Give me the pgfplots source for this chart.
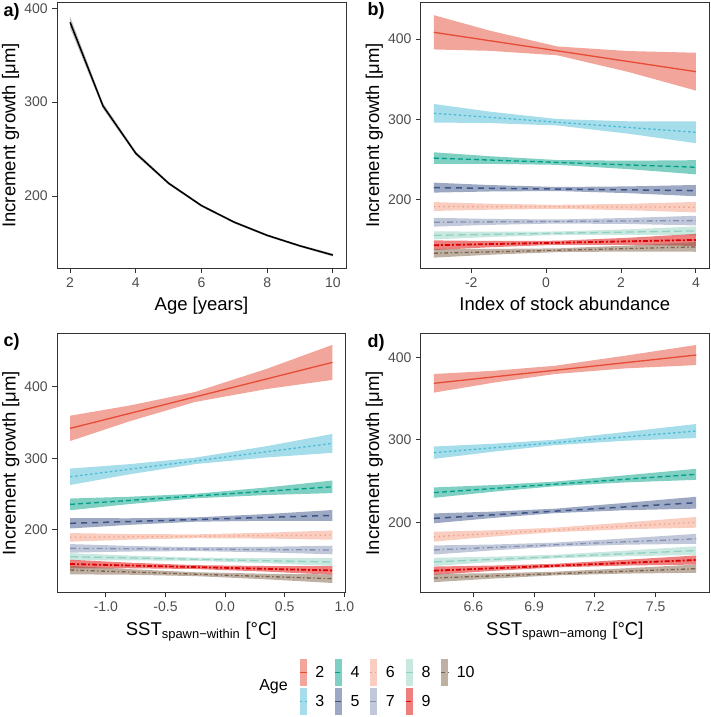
\documentclass[border=0pt]{standalone}
\usepackage{fontspec}
\setmainfont{Liberation Sans}
\usepackage{pgfplots}
\pgfplotsset{compat=1.18}

\definecolor{c2}{HTML}{E64B35}
\definecolor{c3}{HTML}{4DBBD5}
\definecolor{c4}{HTML}{00A087}
\definecolor{c5}{HTML}{3C5488}
\definecolor{c6}{HTML}{F39B7F}
\definecolor{c7}{HTML}{8491B4}
\definecolor{c8}{HTML}{91D1C2}
\definecolor{c9}{HTML}{DC0000}
\definecolor{c10}{HTML}{7E6148}
\definecolor{gray20}{HTML}{333333}
\definecolor{gray30}{HTML}{4D4D4D}

\newcommand\ticksize{\fontsize{14}{15}\selectfont}
\newcommand\titlesize{\fontsize{18.5}{20}\selectfont}

% ribbon: polygon of upper bound (left to right) and lower bound (right to left)
\newcommand\rib[2]{\addplot[draw=none, fill=#1, fill opacity=0.5, forget plot] coordinates {#2};}

\pgfplotsset{
  panel/.style={
    scale only axis, anchor=south west, axis on top,
    axis line style={draw=gray20, line width=0.9pt},
    tick align=outside, tick pos=left,
    major tick length=4.6pt,
    every tick/.style={draw=gray20, line width=0.9pt},
    minor tick num=0,
    tick label style={font=\ticksize, text=gray30},
    xticklabel style={anchor=north, inner sep=0pt, yshift=-4.5pt},
    yticklabel style={anchor=east, inner sep=0pt, xshift=-4.5pt},
    every axis x label/.style={at={(axis description cs:0.5,0)}, anchor=base, yshift=-42.5pt, font=\titlesize},
    every axis y label/.style={at={(axis description cs:-0.1438,0.5)}, rotate=90, anchor=base, font=\titlesize},
    ylabel={Increment growth [μm]},
    ytick={200,300,400}, yticklabels={200,300,400},
  },
  l2/.style={c2, line width=1.3pt},
  l3/.style={c3, line width=1.3pt, dash pattern=on 2.5pt off 2.5pt},
  l4/.style={c4, line width=1.3pt, dash pattern=on 5pt off 3pt},
  l5/.style={c5, line width=1.5pt, dash pattern=on 6pt off 5pt},
  l6/.style={c6, line width=1.3pt, dash pattern=on 1.3pt off 3.5pt},
  l7/.style={c7, line width=1.3pt, dash pattern=on 6pt off 3pt on 1.3pt off 3pt},
  l8/.style={c8, line width=1.3pt, dash pattern=on 8pt off 4pt},
  l9/.style={c9, line width=1.8pt, dash pattern=on 5pt off 2pt on 2pt off 2pt},
  l10/.style={c10, line width=1.3pt, dash pattern=on 4pt off 2.5pt on 1.3pt off 2.5pt},
  agekey/.style={legend image code/.code={
      \fill[draw=none, fill=#1, fill opacity=0.5] (0pt,-13.5pt) rectangle (7pt,13.5pt);
      \draw[##1] (0pt,0pt) -- (7pt,0pt);}},
}

\begin{document}
\begin{tikzpicture}
\useasboundingbox (0pt,0pt) rectangle (711pt,717pt);

% a) age effect
\begin{axis}[panel, at={(57pt,448.5pt)}, width=289pt, height=265.8pt,
  xmin=1.6, xmax=10.4, ymin=122.7, ymax=406,
  xtick={2,4,6,8,10}, xticklabels={2,4,6,8,10},
  xlabel={Age [years]}]
\addplot[draw=none, fill=black!25, forget plot] coordinates {
  (2,391) (3,299) (4,247.5) (5,215) (6,191) (7,173.2) (8,159.2) (9,148) (10,138.5)
  (10,135.5) (9,145.6) (8,156.8) (7,170.8) (6,188.4) (5,212) (4,243.3) (3,293) (2,379)};
\addplot[black, line width=1.5pt] coordinates {
  (2,385) (3,296) (4,245.4) (5,213.5) (6,189.7) (7,172) (8,158) (9,146.8) (10,137)};
\end{axis}

% b) stock abundance
\begin{axis}[panel, at={(420.7pt,448.5pt)}, width=288.3pt, height=265.8pt,
  xmin=-3.35, xmax=4.35, ymin=114.8, ymax=445.1,
  xtick={-2,0,2,4}, xticklabels={-2,0,2,4},
  xlabel={Index of stock abundance}]
\rib{c2}{(-3,429.6) (-1.5,410.3) (0.3,390.7) (2.2,385.0) (4,382.9) (4,335.9) (2.2,359.0) (0.3,379.7) (-1.5,385.3) (-3,387.0)}
\rib{c3}{(-3,319.2) (-1.5,309.7) (0.3,300.5) (2.2,297.7) (4,297.5) (4,270.5) (2.2,282.3) (0.3,292.5) (-1.5,295.5) (-3,296.2)}
\rib{c4}{(-3,259.2) (-1.5,254.3) (0.3,249.6) (2.2,248.7) (4,249.4) (4,231.8) (2.2,238.3) (0.3,243.6) (-1.5,244.9) (-3,244.8)}
\rib{c5}{(-3,221.5) (-1.5,218.5) (0.3,216.1) (2.2,216.8) (4,218.6) (4,204.6) (2.2,208.4) (0.3,211.1) (-1.5,210.5) (-3,209.1)}
\rib{c6}{(-3,197.3) (-1.5,195.3) (0.3,193.9) (2.2,195.2) (4,197.5) (4,184.5) (2.2,187.2) (0.3,188.9) (-1.5,187.9) (-3,186.3)}
\rib{c7}{(-3,177.8) (-1.5,176.4) (0.3,175.7) (2.2,177.6) (4,180.3) (4,168.3) (2.2,170.1) (0.3,170.7) (-1.5,169.0) (-3,166.8)}
\rib{c8}{(-3,161.0) (-1.5,160.5) (0.3,160.8) (2.2,163.5) (4,167.0) (4,156.0) (2.2,156.7) (0.3,156.4) (-1.5,153.9) (-3,151.0)}
\rib{c9}{(-3,149.7) (-1.5,149.0) (0.3,149.3) (2.2,153.0) (4,157.8) (4,142.8) (2.2,144.2) (0.3,144.3) (-1.5,141.2) (-3,137.7)}
\rib{c10}{(-3,139.3) (-1.5,139.1) (0.3,139.8) (2.2,143.3) (4,147.6) (4,135.6) (2.2,135.9) (0.3,135.2) (-1.5,131.9) (-3,128.3)}
\addplot[l2] coordinates {(-3,408.3) (4,359.4)};
\addplot[l3] coordinates {(-3,307.7) (4,284.0)};
\addplot[l4] coordinates {(-3,252.0) (4,240.6)};
\addplot[l5] coordinates {(-3,215.3) (4,211.6)};
\addplot[l6] coordinates {(-3,191.8) (4,191.0)};
\addplot[l7] coordinates {(-3,172.3) (4,174.3)};
\addplot[l8] coordinates {(-3,156.0) (4,161.5)};
\addplot[l9] coordinates {(-3,143.7) (4,150.3)};
\addplot[l10] coordinates {(-3,133.8) (4,141.6)};
\end{axis}

% c) SST spawn within
\begin{axis}[panel, at={(57pt,124.3pt)}, width=288.5pt, height=259.2pt,
  xmin=-1.41, xmax=1.01, ymin=111.9, ymax=474.4,
  xtick={-1,-0.5,0,0.5,1}, xticklabels={-1.0,-0.5,0.0,0.5,1.0},
  xlabel={SST\textsubscript{spawn−within} [°C]}]
\rib{c2}{(-1.3,359.4) (-0.8,373.7) (-0.25,392.7) (0.35,425.0) (0.9,458.5) (0.9,409.5) (0.35,396.8) (-0.25,378.7) (-0.8,351.7) (-1.3,324.0)}
\rib{c3}{(-1.3,285.5) (-0.8,291.7) (-0.25,300.8) (0.35,316.9) (0.9,333.9) (0.9,307.5) (0.35,301.1) (-0.25,291.8) (-0.8,277.5) (-1.3,262.5)}
\rib{c4}{(-1.3,243.6) (-0.8,246.1) (-0.25,250.3) (0.35,259.1) (0.9,268.8) (0.9,251.2) (0.35,248.5) (-0.25,243.9) (-0.8,235.9) (-1.3,227.2)}
\rib{c5}{(-1.3,216.1) (-0.8,216.0) (-0.25,217.2) (0.35,221.9) (0.9,227.5) (0.9,212.5) (0.35,212.5) (-0.25,211.2) (-0.8,206.8) (-1.3,201.7)}
\rib{c6}{(-1.3,195.3) (-0.8,193.9) (-0.25,193.5) (0.35,195.8) (0.9,199.0) (0.9,186.0) (0.35,187.6) (-0.25,188.1) (-0.8,186.1) (-1.3,183.3)}
\rib{c7}{(-1.3,179.9) (-0.8,177.3) (-0.25,175.5) (0.35,176.1) (0.9,177.6) (0.9,165.6) (0.35,168.3) (-0.25,170.1) (-0.8,169.5) (-1.3,167.9)}
\rib{c8}{(-1.3,167.2) (-0.8,163.8) (-0.25,161.0) (0.35,160.1) (0.9,160.3) (0.9,149.3) (0.35,153.1) (-0.25,156.4) (-0.8,157.2) (-1.3,157.2)}
\rib{c9}{(-1.3,158.0) (-0.8,153.9) (-0.25,150.4) (0.35,149.2) (0.9,149.0) (0.9,137.0) (0.35,141.4) (-0.25,145.0) (-0.8,146.1) (-1.3,146.0)}
\rib{c10}{(-1.3,149.6) (-0.8,144.8) (-0.25,140.5) (0.35,138.4) (0.9,137.5) (0.9,125.5) (0.35,130.6) (-0.25,135.1) (-0.8,137.0) (-1.3,137.6)}
\addplot[l2] coordinates {(-1.3,341.7) (0.9,434.0)};
\addplot[l3] coordinates {(-1.3,274.0) (0.9,320.7)};
\addplot[l4] coordinates {(-1.3,235.4) (0.9,260.0)};
\addplot[l5] coordinates {(-1.3,208.9) (0.9,220.0)};
\addplot[l6] coordinates {(-1.3,189.3) (0.9,192.5)};
\addplot[l7] coordinates {(-1.3,173.9) (0.9,171.6)};
\addplot[l8] coordinates {(-1.3,162.2) (0.9,154.8)};
\addplot[l9] coordinates {(-1.3,152.0) (0.9,143.0)};
\addplot[l10] coordinates {(-1.3,143.6) (0.9,131.5)};
\end{axis}

% d) SST spawn among
\begin{axis}[panel, at={(420.7pt,124.3pt)}, width=288.3pt, height=259.2pt,
  xmin=6.34, xmax=7.763, ymin=114.7, ymax=428.9,
  xtick={6.6,6.9,7.2,7.5}, xticklabels={6.6,6.9,7.2,7.5},
  xlabel={SST\textsubscript{spawn−among} [°C]},
  legend columns=2, transpose legend,
  legend style={draw=none, fill=none, at={(axis description cs:-0.4221,-0.2558)},
    anchor=north west, inner sep=0pt, outer sep=0pt,
    font=\fontsize{16}{16}\selectfont, row sep=2pt,
    nodes={inner sep=0pt},
    /tikz/every odd column/.append style={column sep=8pt},
    /tikz/every even column/.append style={column sep=10pt}},
  legend cell align=left]
\rib{c2}{(6.405,379.8) (6.7,383.7) (7.0,389.7) (7.35,402.0) (7.70,415.0) (7.70,390.6) (7.35,386.6) (7.0,379.7) (6.7,369.3) (6.405,357.2)}
\rib{c3}{(6.405,291.9) (6.7,295.3) (7.0,300.1) (7.35,309.5) (7.70,319.2) (7.70,302.2) (7.35,298.9) (7.0,293.5) (6.7,285.7) (6.405,276.9)}
\rib{c4}{(6.405,242.3) (6.7,245.2) (7.0,249.3) (7.35,257.0) (7.70,264.9) (7.70,251.5) (7.35,248.4) (7.0,243.7) (6.7,237.2) (6.405,229.7)}
\rib{c5}{(6.405,210.8) (6.7,213.0) (7.0,216.5) (7.35,223.6) (7.70,231.0) (7.70,216.6) (7.35,214.7) (7.0,211.1) (6.7,205.4) (6.405,198.8)}
\rib{c6}{(6.405,188.6) (6.7,190.4) (7.0,193.5) (7.35,199.8) (7.70,206.5) (7.70,193.5) (7.35,191.6) (7.0,188.1) (6.7,182.8) (6.405,176.6)}
\rib{c7}{(6.405,172.0) (6.7,173.1) (7.0,175.4) (7.35,180.5) (7.70,186.0) (7.70,174.0) (7.35,172.9) (7.0,170.4) (6.7,166.1) (6.405,161.0)}
\rib{c8}{(6.405,157.0) (6.7,158.4) (7.0,160.7) (7.35,165.7) (7.70,171.0) (7.70,160.4) (7.35,158.9) (7.0,156.3) (6.7,152.0) (6.405,147.0)}
\rib{c9}{(6.405,146.4) (6.7,147.6) (7.0,149.7) (7.35,154.6) (7.70,159.8) (7.70,148.8) (7.35,147.6) (7.0,145.3) (6.7,141.2) (6.405,136.4)}
\rib{c10}{(6.405,137.5) (6.7,138.3) (7.0,140.1) (7.35,144.3) (7.70,148.8) (7.70,138.8) (7.35,137.9) (7.0,135.7) (6.7,131.9) (6.405,127.5)}
\addplot[l2, agekey=c2] coordinates {(6.405,368.5) (7.70,402.8)};
\addlegendentry{2}
\addplot[l3, agekey=c3] coordinates {(6.405,284.4) (7.70,310.7)};
\addlegendentry{3}
\addplot[l4, agekey=c4] coordinates {(6.405,236.0) (7.70,258.2)};
\addlegendentry{4}
\addplot[l5, agekey=c5] coordinates {(6.405,204.8) (7.70,223.8)};
\addlegendentry{5}
\addplot[l6, agekey=c6] coordinates {(6.405,182.6) (7.70,200.0)};
\addlegendentry{6}
\addplot[l7, agekey=c7] coordinates {(6.405,166.5) (7.70,180.0)};
\addlegendentry{7}
\addplot[l8, agekey=c8] coordinates {(6.405,152.0) (7.70,165.7)};
\addlegendentry{8}
\addplot[l9, agekey=c9] coordinates {(6.405,141.4) (7.70,154.3)};
\addlegendentry{9}
\addplot[l10, agekey=c10] coordinates {(6.405,132.5) (7.70,143.8)};
\addlegendentry{10}
\end{axis}

\node[font=\fontsize{16}{16}\selectfont, anchor=center] at (273.5pt,30pt) {Age};
\node[font=\bfseries\fontsize{18}{18}\selectfont, anchor=base west] at (0pt,700pt) {a)};
\node[font=\bfseries\fontsize{18}{18}\selectfont, anchor=base west] at (364pt,701pt) {b)};
\node[font=\bfseries\fontsize{18}{18}\selectfont, anchor=base west] at (0pt,370pt) {c)};
\node[font=\bfseries\fontsize{18}{18}\selectfont, anchor=base west] at (364pt,369pt) {d)};
\end{tikzpicture}
\end{document}
